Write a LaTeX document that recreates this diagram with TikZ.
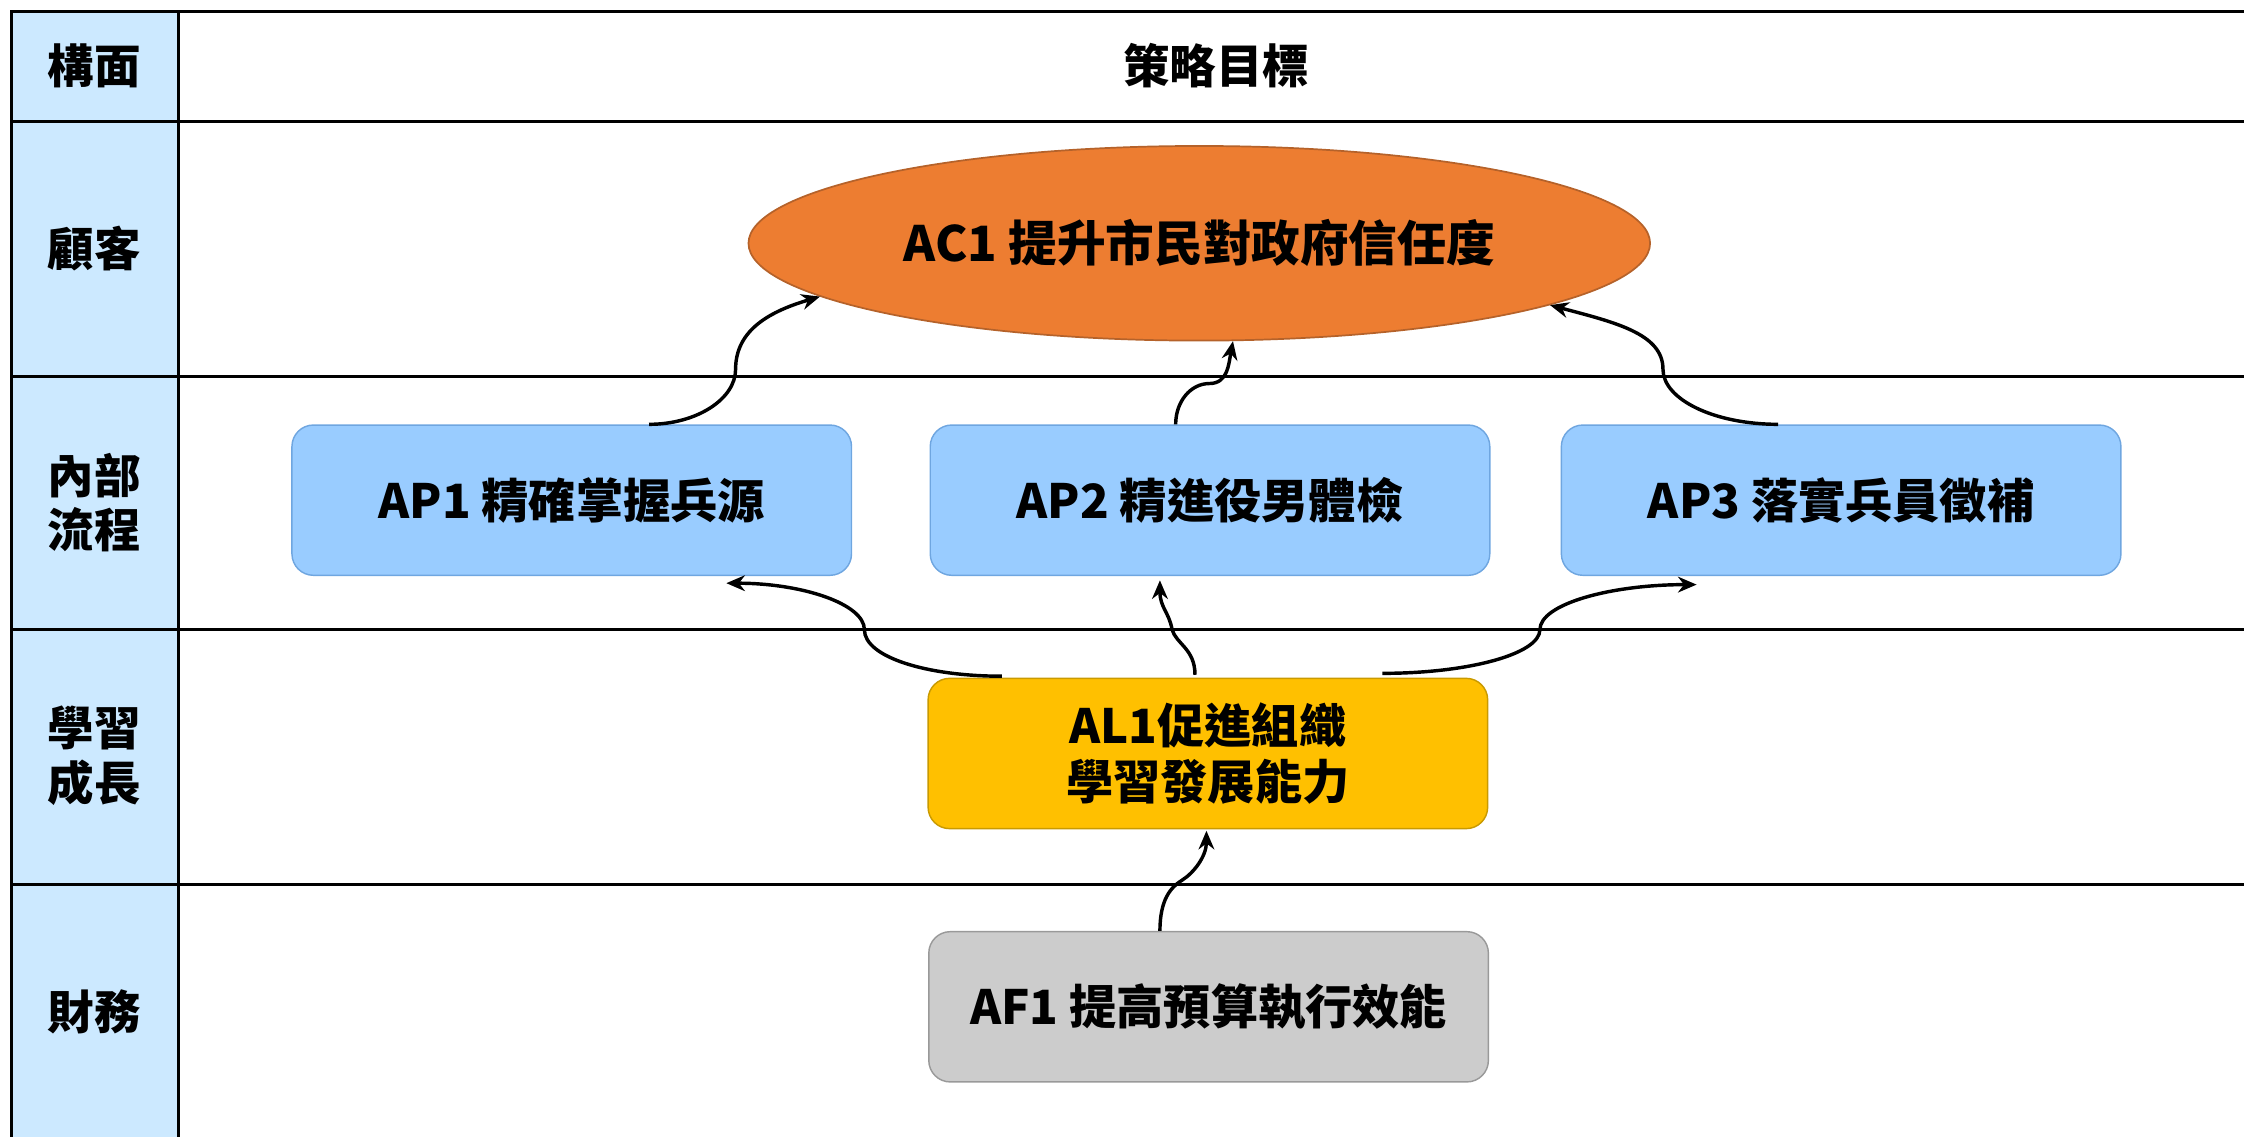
\documentclass[tikz,border=0pt]{standalone}
\usepackage{fontspec}
\setmainfont{Noto Sans CJK TC}
\usetikzlibrary{arrows.meta,calc,shapes.geometric}
\definecolor{colbg}{HTML}{CCE9FF}
\definecolor{acfill}{HTML}{ED7D31}
\definecolor{acline}{HTML}{B5622A}
\definecolor{apfill}{HTML}{99CCFF}
\definecolor{apline}{HTML}{6FA6E0}
\definecolor{alfill}{HTML}{FFC000}
\definecolor{alline}{HTML}{C99A00}
\definecolor{affill}{HTML}{CCCCCC}
\definecolor{afline}{HTML}{999999}
\begin{document}
\begin{tikzpicture}[x=1pt,y=1pt,
  font=\fontsize{33}{39}\selectfont\bfseries,
  box/.style={rounded corners=15pt, minimum width=391pt, minimum height=105pt, inner sep=0pt, line width=1pt, align=center},
  arr/.style={line width=2.4pt, -{Stealth[length=13pt,width=11pt]}},
  lab/.style={font=\fontsize{32.5}{38}\selectfont\bfseries, align=center},
  grid/.style={line width=2pt}]
\useasboundingbox (0,0) rectangle (1568,-794);
\clip (0,0) rectangle (1568,-794);
% left column
\fill[colbg] (8,-8) rectangle (125,-800);
% grid
\foreach \yy in {8,85,263,440,618} \draw[grid] (7,-\yy) -- (1580,-\yy);
\draw[grid] (8,-7) -- (8,-800);
\draw[grid] (125,-7) -- (125,-800);
% labels
\node[lab] (h1) at (66,-46) {構面};
\node[lab] (h2) at (850,-46) {策略目標};
\node[lab] (r1) at (66,-174) {顧客};
\node[lab] (r2) at (66,-351) {內部\\流程};
\node[lab] (r3) at (66,-528) {學習\\成長};
\node[lab] (r4) at (66,-707) {財務};
% nodes
\node[ellipse, draw=acline, fill=acfill, line width=1.2pt, minimum width=630pt, minimum height=136pt, inner sep=0pt,
  font=\fontsize{34}{40}\selectfont\bfseries] (AC1) at (838,-170) {AC1 提升市民對政府信任度};
\node[box, draw=apline, fill=apfill] (AP1) at (399.5,-349.5) {AP1 精確掌握兵源};
\node[box, draw=apline, fill=apfill] (AP2) at (845.5,-349.5) {AP2 精進役男體檢};
\node[box, draw=apline, fill=apfill] (AP3) at (1286.5,-349.5) {AP3 落實兵員徵補};
\node[box, draw=alline, fill=alfill] (AL1) at (844,-526.5) {AL1促進組織\\學習發展能力};
\node[box, draw=afline, fill=affill] (AF1) at (844.5,-703.5) {AF1 提高預算執行效能};
% connectors
\coordinate (m1) at (514,-258);
\draw[arr] ($(AP1.north west)+(250,0)$) .. controls +(33,0) and +(0,-21) .. (m1)
  .. controls +(0,28) and +(-34,-10) .. (AC1.188);
\coordinate (m2) at (845,-268);
\draw[arr] ($(AP2.north west)+(172,0)$) .. controls +(0,16) and +(-13,0) .. (m2)
  .. controls +(13,0) and +(-3,-16) .. (AC1.289);
\coordinate (m3) at (1162,-258);
\draw[arr] ($(AP3.north west)+(152,0)$) .. controls +(-45,0) and +(0,-21) .. (m3)
  .. controls +(0,25) and +(45,-12) .. (AC1.350);
\coordinate (m4) at (604,-440);
\draw[arr] ($(AL1.north west)+(52,1)$) .. controls +(-53,0) and +(0,-19) .. (m4)
  .. controls +(0,18) and +(53,0) .. ($(AP1.south west)+(304,-5)$);
\coordinate (m5) at (819,-440);
\draw[arr] ($(AL1.north west)+(187,2)$) .. controls +(0,18) and +(3,-10) .. (m5)
  .. controls +(-2,12) and +(0,-19) .. ($(AP2.south west)+(161,-3)$);
\coordinate (m6) at (1076,-440);
\draw[arr] ($(AL1.north west)+(318,3)$) .. controls +(60,0) and +(0,-17) .. (m6)
  .. controls +(0,18) and +(-60,0) .. ($(AP3.south west)+(95,-6)$);
\coordinate (m7) at (826,-615);
\draw[arr] ($(AF1.north west)+(162,0)$) .. controls +(0,22) and +(-8,-5) .. (m7)
  .. controls +(8,5) and +(0,-18) .. ($(AL1.south west)+(195,-1)$);
\end{tikzpicture}
\end{document}
